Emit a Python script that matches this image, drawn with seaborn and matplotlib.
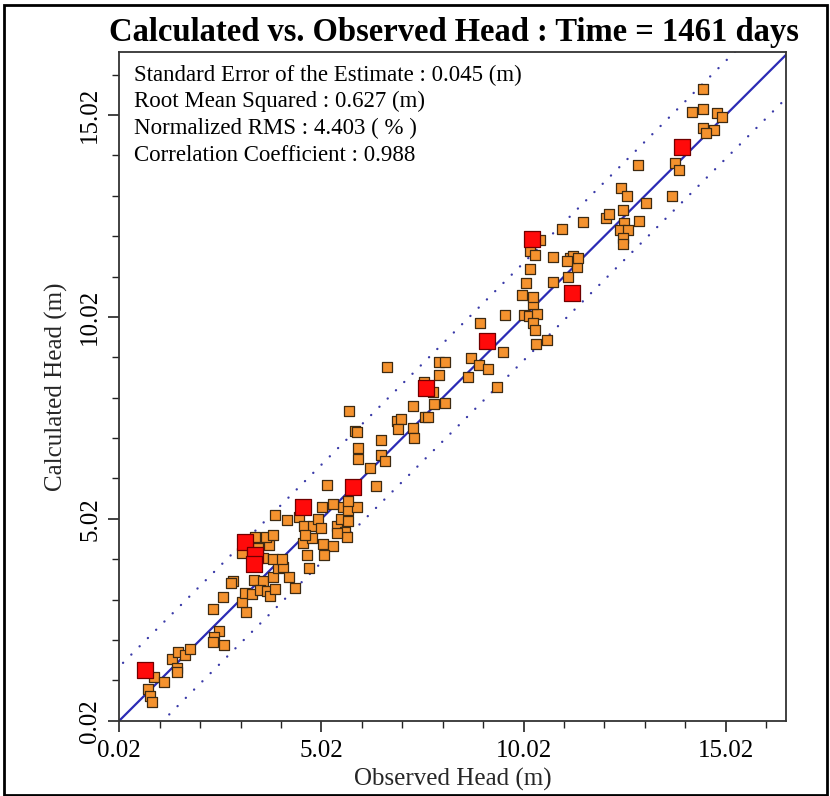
import matplotlib
matplotlib.use("Agg")
import matplotlib.pyplot as plt
import seaborn as sns
import pandas as pd
from matplotlib.patches import Rectangle
from matplotlib.ticker import FixedLocator

# ---------------- data ----------------
obs_head = [0.89, 1.13, 0.74, 0.78, 0.82, 1.32, 1.48, 1.45, 1.44, 1.64, 1.78,
            2.33, 2.59, 3.15, 3.05, 2.49, 2.36, 2.33, 2.62, 2.82, 3.13, 3.29,
            3.34, 3.58, 3.49, 3.67, 3.75, 3.86, 4.37, 3.83, 4.22, 3.95, 4.07,
            3.58, 3.81, 4.04, 3.05, 3.46, 3.73, 3.38, 3.65, 3.83, 3.87, 4.16,
            2.78, 4.47, 4.59, 4.80, 4.94, 5.01, 4.57, 4.79, 5.05, 5.31, 4.67,
            5.08, 4.71, 5.41, 5.50, 5.68, 5.60, 5.64, 5.41, 5.56, 5.68, 5.91,
            5.31, 5.03, 5.15, 5.68, 6.36, 4.61, 5.71, 5.85, 5.90, 5.93, 5.93,
            6.49, 6.49, 6.59, 6.23, 6.88, 6.98, 6.92, 7.28, 6.65, 7.58, 7.66,
            7.28, 7.31, 7.56, 7.79, 8.07, 7.80, 7.93, 8.07, 7.93, 8.65, 8.72,
            8.92, 9.15, 9.37, 9.50, 8.95, 9.57, 10.03, 10.16, 10.36, 10.26,
            10.29, 10.33, 10.61, 10.26, 9.97, 10.26, 10.07, 10.19, 10.74,
            11.12, 11.33, 11.17, 11.23, 10.75, 10.19, 10.30, 10.43, 10.98,
            11.48, 11.10, 11.37, 12.07, 12.13, 12.48, 12.88, 12.50, 12.40,
            12.61, 12.48, 12.48, 12.42, 12.58, 13.05, 13.68, 12.85, 13.76,
            13.87, 14.45, 14.19, 14.45, 14.81, 14.93, 14.45, 14.73, 14.53]
calc_head = [1.10, 0.97, 0.80, 0.63, 0.48, 1.54, 1.73, 1.32, 1.23, 1.65, 1.79,
             2.78, 3.08, 2.71, 2.96, 2.25, 2.10, 1.96, 1.89, 3.48, 3.18, 3.16,
             3.50, 3.48, 3.26, 3.24, 3.11, 3.28, 3.30, 3.58, 3.59, 3.79, 3.83,
             4.04, 4.02, 4.02, 4.18, 4.29, 4.38, 4.58, 4.56, 4.62, 5.11, 4.99,
             3.44, 5.07, 4.84, 4.84, 5.01, 4.78, 4.41, 4.55, 4.40, 4.35, 4.12,
             4.12, 3.79, 4.84, 5.01, 4.96, 4.70, 4.58, 4.66, 5.32, 5.24, 5.30,
             5.39, 5.30, 5.86, 5.47, 5.83, 4.62, 7.70, 7.20, 7.17, 6.77, 6.49,
             6.97, 6.60, 6.46, 6.29, 7.44, 7.48, 7.24, 7.82, 8.79, 7.53, 7.53,
             7.26, 7.01, 8.41, 8.17, 7.89, 7.86, 8.91, 8.91, 8.58, 8.52, 9.01,
             8.84, 8.72, 8.29, 9.14, 9.86, 10.07, 10.07, 10.04, 10.09, 9.86,
             9.69, 9.35, 9.46, 10.34, 10.56, 10.52, 10.85, 11.20, 10.89,
             11.01, 11.25, 11.47, 11.53, 11.51, 11.64, 11.56, 11.93, 12.19,
             12.36, 11.41, 11.47, 12.46, 12.56, 12.67, 12.39, 12.34, 12.16,
             12.16, 11.98, 11.82, 13.20, 13.01, 12.85, 13.01, 13.77, 13.82,
             13.67, 15.66, 15.10, 15.17, 15.08, 14.98, 14.71, 14.65, 14.58]

red_obs = [0.66, 3.13, 3.38, 3.34, 4.56, 5.80, 7.60, 9.11, 10.23, 11.22, 13.93]
red_calc = [1.28, 4.44, 4.12, 3.90, 5.30, 5.80, 8.26, 9.43, 11.96, 10.62, 14.22]

band_upper = 1.34
band_lower = -1.08

title = "Calculated vs. Observed Head : Time = 1461 days"
stats_lines = ["Standard Error of the Estimate : 0.045 (m)",
               "Root Mean Squared : 0.627 (m)",
               "Normalized RMS : 4.403 ( % )",
               "Correlation Coefficient : 0.988"]
major_ticks = [0.02, 5.02, 10.02, 15.02]
tick_labels = ["0.02", "5.02", "10.02", "15.02"]
minor_ticks = [1.02, 2.02, 3.02, 4.02, 6.02, 7.02, 8.02, 9.02,
               11.02, 12.02, 13.02, 14.02, 16.02]
x_label = "Observed Head (m)"
y_label = "Calculated Head (m)"

# ---------------- style ----------------
sns.set_style("ticks")
plt.rcParams["font.family"] = ["Liberation Serif", "DejaVu Serif"]

W, H = 830, 796
fig = plt.figure(figsize=(W / 100, H / 100), dpi=100)
ax_l, ax_r, ax_t, ax_b = 119.3, 786.0, 52.0, 720.7
ax = fig.add_axes([ax_l / W, (H - ax_b) / H, (ax_r - ax_l) / W, (ax_b - ax_t) / H])

x_lo, x_hi = 0.02, 16.51
y_lo, y_hi = 0.02, 16.58

line_x = [-3.0, 20.0]
ax.plot(line_x, line_x, color="#2b2bb5", lw=1.6, zorder=2)
for off in (band_upper, band_lower):
    ax.plot(line_x, [v + off for v in line_x], color="#3a3aa8", lw=1.7,
            ls=(0, (0.05, 4.9)), dash_capstyle="round", zorder=2)

df = pd.DataFrame({"obs": obs_head, "calc": calc_head})
dfr = pd.DataFrame({"obs": red_obs, "calc": red_calc})
sns.scatterplot(data=df, x="obs", y="calc", marker="s", s=46, color="#f4922e",
                edgecolor="#3d2a12", linewidth=0.9, ax=ax, zorder=3)
sns.scatterplot(data=dfr, x="obs", y="calc", marker="s", s=120, color="#ff0a0a",
                edgecolor="#700000", linewidth=0.9, ax=ax, zorder=4)

ax.set_xlim(x_lo, x_hi)
ax.set_ylim(y_lo, y_hi)

ax.set_xticks(major_ticks)
ax.set_xticklabels(tick_labels)
ax.set_yticks(major_ticks)
ax.set_yticklabels(tick_labels, rotation=90, va="center")
ax.xaxis.set_minor_locator(FixedLocator(minor_ticks))
ax.yaxis.set_minor_locator(FixedLocator(minor_ticks))
ax.tick_params(which="major", direction="out", length=8, width=1.2,
               labelsize=18, pad=6, colors="#222222")
ax.tick_params(which="minor", direction="out", length=5, width=1.0, colors="#222222")
ax.tick_params(axis="y", which="major", pad=5)
for lab in ax.get_xticklabels() + ax.get_yticklabels():
    lab.set_color("black")

for sp in ax.spines.values():
    sp.set_visible(True)
    sp.set_color("#333333")
    sp.set_linewidth(1.3)

ax.set_xlabel(x_label, fontsize=18, labelpad=4)
ax.set_ylabel(y_label, fontsize=18, labelpad=8)

y0 = 0.957
for i, line in enumerate(stats_lines):
    ax.text(0.022, y0 - i * 0.0398, line, transform=ax.transAxes,
            fontsize=16.5, va="baseline", ha="left", color="black")

fig.text(454 / W, 1 - 41 / H, title, ha="center", va="baseline",
         fontsize=23.5, fontweight="bold", color="black")

fig.add_artist(Rectangle((4 / W, 1.5 / H), 823 / W, 789.5 / H,
                         transform=fig.transFigure, fill=False,
                         lw=2, ec="black"))

fig.savefig("out.png", dpi=100)
